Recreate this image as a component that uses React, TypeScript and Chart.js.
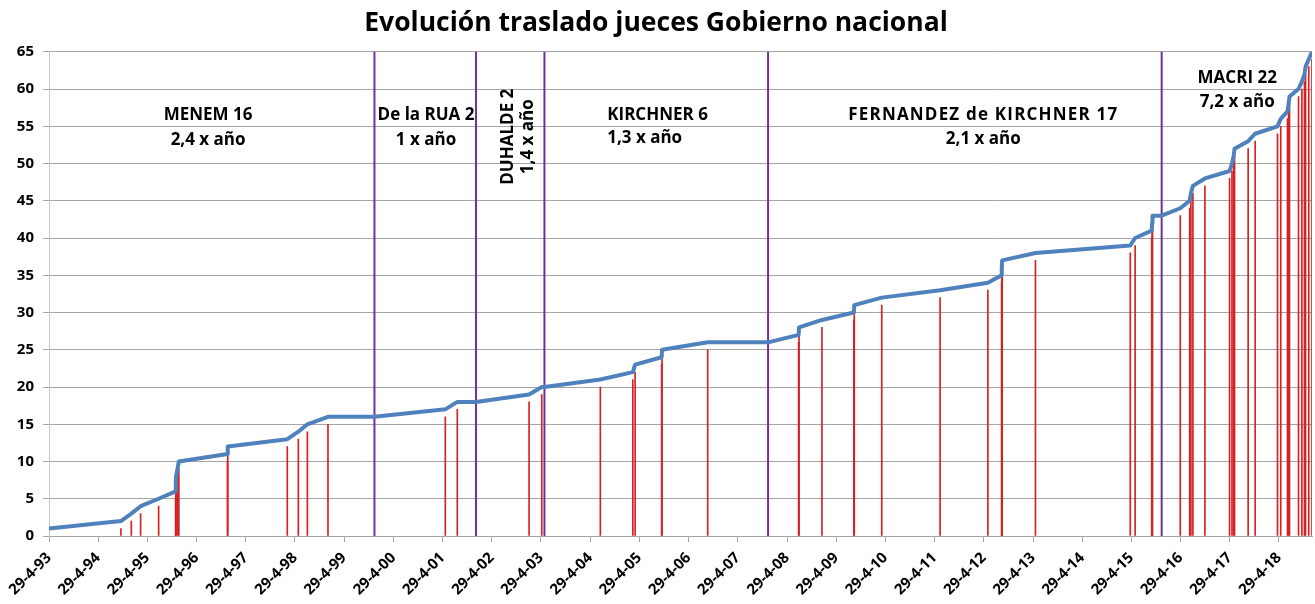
import React, { useEffect, useRef } from 'react';
import { Chart, registerables } from 'chart.js';

Chart.register(...registerables);

// ---------- DATA ----------
const chartTitle = 'Evolución traslado jueces Gobierno nacional';

// Date of each judge transfer (cumulative order)
const transferDates = [
  '1993-04-29', '1994-10-15', '1994-12-31', '1995-03-10', '1995-07-22',
  '1995-11-25', '1995-11-26', '1995-11-28', '1995-12-09', '1995-12-19',
  '1996-12-14', '1996-12-16', '1998-03-03', '1998-05-24', '1998-07-30',
  '1998-12-30', '2001-05-19', '2001-08-16', '2003-01-31', '2003-05-05',
  '2004-07-13', '2005-03-11', '2005-03-28', '2005-10-11', '2005-10-14',
  '2006-09-18', '2008-07-24', '2008-07-27', '2009-01-13', '2009-09-07',
  '2009-09-10', '2010-04-02', '2011-06-09', '2012-05-29', '2012-09-08',
  '2012-09-09', '2012-09-12', '2013-05-17', '2015-04-21', '2015-05-27',
  '2015-09-27', '2015-09-30', '2015-10-03', '2016-04-26', '2016-07-05',
  '2016-07-14', '2016-07-29', '2016-10-26', '2017-04-27', '2017-05-15',
  '2017-05-27', '2017-06-03', '2017-09-12', '2017-11-03', '2018-04-18',
  '2018-05-12', '2018-07-01', '2018-07-09', '2018-07-16', '2018-09-21',
  '2018-10-16', '2018-11-04', '2018-11-12', '2018-12-06', '2018-12-30',
];

// Cumulative number of transfers (blue line)
const transferCounts = [
  1, 2, 3, 4, 5, 6, 7, 8, 9, 10,
  11, 12, 13, 14, 15, 16, 17, 18, 19, 20,
  21, 22, 23, 24, 25, 26, 27, 28, 29, 30,
  31, 32, 33, 34, 35, 36, 37, 38, 39, 40,
  41, 42, 43, 44, 45, 46, 47, 48, 49, 50,
  51, 52, 53, 54, 55, 56, 57, 58, 59, 60,
  61, 62, 63, 64, 65,
];

// Height of the red marker line at each transfer date
const dropHeights = [
  0, 1, 2, 3, 4, 5, 6, 7, 8, 9,
  10, 11, 12, 13, 14, 15, 16, 17, 18, 19,
  20, 21, 22, 23, 24, 25, 26, 27, 28, 29,
  30, 31, 32, 33, 34, 35, 36, 37, 38, 39,
  40, 41, 42, 43, 44, 45, 46, 47, 48, 49,
  50, 51, 52, 53, 54, 55, 56, 57, 58, 59,
  60, 61, 62, 63, 64,
];

// Start of each presidency (purple lines) and cumulative count at that date
const presidencyDates = ['1999-12-10', '2002-01-02', '2003-05-25', '2007-12-10', '2015-12-10'];
const presidencyCounts = [16, 18, 20, 26, 43];

const axisStart = '1993-04-29';
const axisEnd = '2018-12-30';
const tickYears = [
  1993, 1994, 1995, 1996, 1997, 1998, 1999, 2000, 2001, 2002, 2003, 2004, 2005,
  2006, 2007, 2008, 2009, 2010, 2011, 2012, 2013, 2014, 2015, 2016, 2017, 2018,
];
const yMin = 0;
const yMax = 65;
const yStep = 5;

// Annotation texts
const noteMenem = ['MENEM 16', '2,4 x año'];
const noteDeLaRua = ['De la RUA 2', '1 x año'];
const noteDuhalde = ['DUHALDE 2', '1,4 x año'];
const noteKirchner = ['KIRCHNER 6', '1,3 x año'];
const noteCfk = ['FERNANDEZ de KIRCHNER 17', '2,1 x año'];
const noteMacri = ['MACRI 22', '7,2 x año'];

// ---------- STYLE / LAYOUT ----------
const FONT = '"Open Sans", "DejaVu Sans", sans-serif';
const BLUE = '#4F81BD';
const RED = '#d42222';
const PURPLE = '#7030A0';
const GRID = '#a6a6a6';

const toMs = (s: string) => {
  const [y, m, d] = s.split('-').map(Number);
  return Date.UTC(y, m - 1, d);
};

// annotation anchors in data coordinates (date, value)
const notes = [
  { lines: noteMenem, date: '1996-07-23', value: 56.5, gap: 3.35, align: 'center', rotate: false, spacing: 0 },
  { lines: noteDeLaRua, date: '2000-12-27', value: 56.5, gap: 3.35, align: 'center', rotate: false, spacing: 0 },
  { lines: [noteDuhalde[0]], date: '2002-08-28', value: 53.6, gap: 0, align: 'center', rotate: true, spacing: 0 },
  { lines: [noteDuhalde[1]], date: '2003-01-24', value: 53.6, gap: 0, align: 'center', rotate: true, spacing: 0 },
  { lines: noteKirchner, date: '2004-09-02', value: 56.5, gap: 3.1, align: 'left', rotate: false, spacing: 0 },
  { lines: noteCfk, date: '2012-04-25', value: 56.5, gap: 3.2, align: 'center', rotate: false, spacing: 1.2 },
  { lines: noteMacri, date: '2017-06-23', value: 61.4, gap: 3.2, align: 'center', rotate: false, spacing: 0 },
];

const presidencyLinesPlugin = {
  id: 'presidencyLines',
  beforeDatasetsDraw(chart: any) {
    const { ctx, chartArea, scales } = chart;
    const x = scales.x;
    ctx.save();
    ctx.strokeStyle = PURPLE;
    ctx.lineWidth = 2;
    presidencyDates.forEach((d) => {
      const px = x.getPixelForValue(toMs(d));
      ctx.beginPath();
      ctx.moveTo(px, chartArea.top);
      ctx.lineTo(px, chartArea.bottom);
      ctx.stroke();
    });
    ctx.restore();
  },
};

const notesPlugin = {
  id: 'notes',
  afterDatasetsDraw(chart: any) {
    const { ctx, scales } = chart;
    const x = scales.x;
    const y = scales.y;
    ctx.save();
    ctx.fillStyle = '#000';
    ctx.font = `bold 17px ${FONT}`;
    ctx.textBaseline = 'middle';
    notes.forEach((n) => {
      const px = x.getPixelForValue(toMs(n.date));
      (ctx as any).letterSpacing = `${n.spacing}px`;
      if (n.rotate) {
        const py = y.getPixelForValue(n.value);
        ctx.save();
        ctx.translate(px, py);
        ctx.rotate(-Math.PI / 2);
        ctx.textAlign = 'center';
        ctx.fillText(n.lines[0], 0, 0);
        ctx.restore();
      } else {
        ctx.textAlign = n.align as CanvasTextAlign;
        n.lines.forEach((t, i) => {
          const py = y.getPixelForValue(n.value - i * n.gap);
          (ctx as any).letterSpacing = i === 0 ? `${n.spacing}px` : '0px';
          ctx.fillText(t, px, py);
        });
      }
    });
    ctx.restore();
  },
};

export default function App() {
  const canvasRef = useRef<HTMLCanvasElement | null>(null);

  useEffect(() => {
    const canvas = canvasRef.current;
    if (!canvas) return;

    const linePoints = [
      ...transferDates.map((d, i) => ({ x: toMs(d), y: transferCounts[i] })),
      ...presidencyDates.map((d, i) => ({ x: toMs(d), y: presidencyCounts[i] })),
    ].sort((a, b) => a.x - b.x || a.y - b.y);

    const dropPoints = transferDates.map((d, i) => ({ x: toMs(d), y: dropHeights[i] }));
    const tickValues = tickYears.map((yr) => Date.UTC(yr, 3, 29));

    const chart = new Chart(canvas, {
      type: 'line',
      data: {
        datasets: [
          {
            type: 'line',
            label: 'Acumulado',
            data: linePoints,
            borderColor: BLUE,
            backgroundColor: BLUE,
            borderWidth: 4,
            pointRadius: 0,
            tension: 0,
            fill: false,
            borderJoinStyle: 'round',
            order: 0,
          } as any,
          {
            type: 'bar',
            label: 'Traslados',
            data: dropPoints,
            backgroundColor: RED,
            barThickness: 1,
            order: 1,
          } as any,
        ],
      },
      options: {
        responsive: false,
        animation: false,
        events: [],
        layout: { padding: { top: 0, right: 3, bottom: 0, left: 0 } },
        plugins: {
          legend: { display: false },
          tooltip: { enabled: false },
          title: {
            display: true,
            text: chartTitle,
            color: '#000',
            font: { family: FONT, size: 26.5, weight: 'bold' },
            padding: { top: 8, bottom: 12 },
          },
        },
        scales: {
          x: {
            type: 'linear',
            min: toMs(axisStart),
            max: toMs(axisEnd),
            offset: false,
            grid: {
              offset: false,
              drawOnChartArea: false,
              drawTicks: true,
              tickLength: 6,
              color: GRID,
            },
            border: { color: GRID, width: 1 },
            ticks: {
              autoSkip: false,
              minRotation: 45,
              maxRotation: 45,
              padding: 7,
              color: '#000',
              font: { family: FONT, size: 15, weight: 'bold' },
              callback: (v: any) => {
                const dt = new Date(Number(v));
                const yy = String(dt.getUTCFullYear() % 100).padStart(2, '0');
                return `29-4-${yy}`;
              },
            },
            afterBuildTicks: (scale: any) => {
              scale.ticks = tickValues.map((v) => ({ value: v }));
            },
            afterFit: (scale: any) => {
              scale.height = 68;
            },
          } as any,
          y: {
            min: yMin,
            max: yMax,
            ticks: {
              stepSize: yStep,
              padding: 9,
              color: '#000',
              font: { family: FONT, size: 15, weight: 'bold' },
            },
            grid: { color: GRID, tickLength: 6 },
            border: { color: '#c8c8c8', width: 1 },
            afterFit: (scale: any) => {
              scale.width = 49;
            },
          } as any,
        },
      },
      plugins: [presidencyLinesPlugin, notesPlugin],
    });

    return () => chart.destroy();
  }, []);

  return (
    <div style={{ position: 'fixed', left: 0, top: 0, width: 1315, height: 604, background: '#fff' }}>
      <canvas ref={canvasRef} width={1315} height={604} style={{ display: 'block' }} />
    </div>
  );
}
